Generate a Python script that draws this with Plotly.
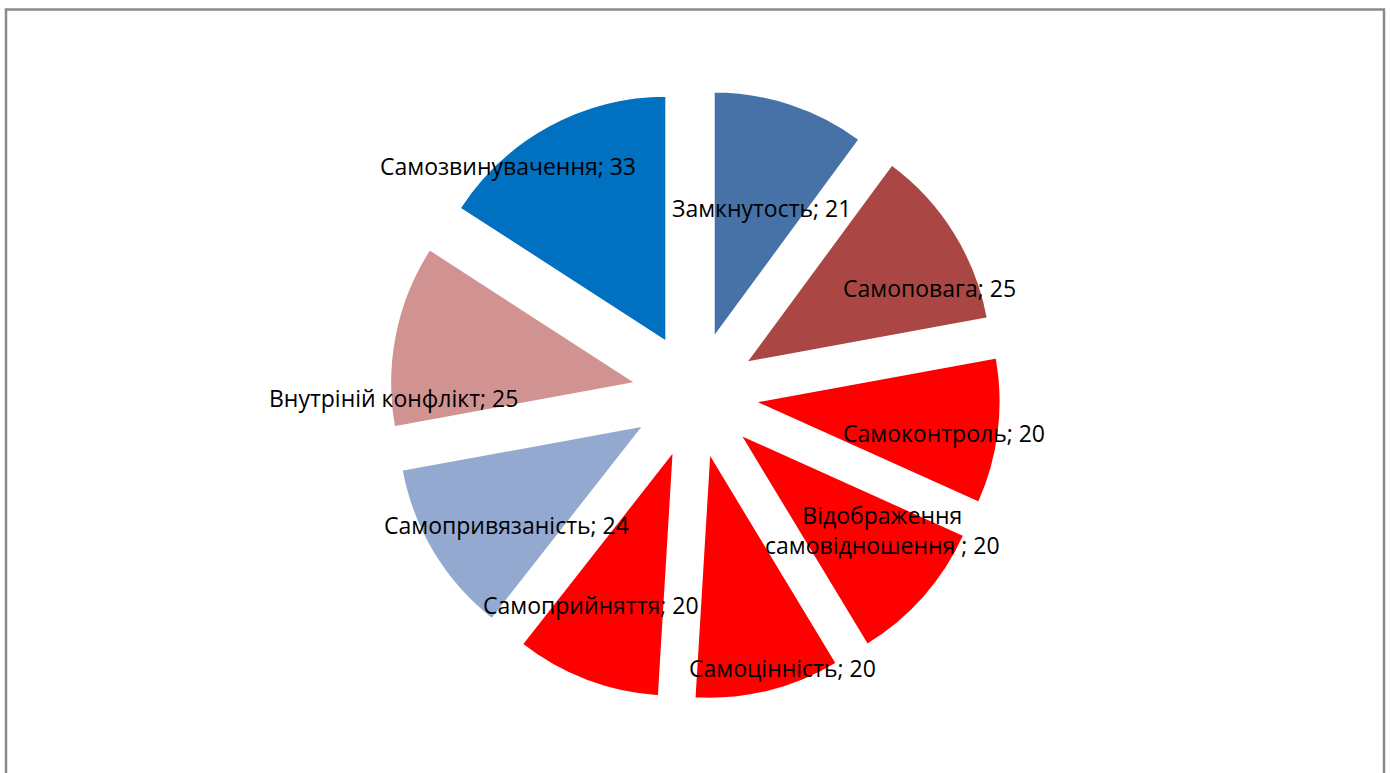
import plotly.graph_objects as go

# Self-attitude components and their scores
categories = [
    "Замкнутость",
    "Самоповага",
    "Самоконтроль",
    "Відображення самовідношення ",
    "Самоцінність",
    "Самоприйняття",
    "Самопривязаність",
    "Внутріній конфлікт",
    "Самозвинувачення",
]
values = [21, 25, 20, 20, 20, 20, 24, 25, 33]

slice_colors = [
    "#4672A8",
    "#AA4744",
    "#FF0000",
    "#FF0000",
    "#FF0000",
    "#FF0000",
    "#94A9D0",
    "#D19392",
    "#0070C0",
]

# Label centres in page pixels (x, y from top)
label_px = [
    (761, 208),
    (930, 288),
    (944, 433),
    (882, 530),
    (782, 668),
    (591, 605),
    (506, 525),
    (393, 398),
    (508, 166),
]

W, H = 1390, 773

fig = go.Figure(
    go.Pie(
        labels=categories,
        values=values,
        sort=False,
        direction="clockwise",
        rotation=0,
        pull=[0.244] * len(values),
        marker=dict(colors=slice_colors, line=dict(color="white", width=2)),
        textinfo="none",
        hoverinfo="label+value",
        showlegend=False,
        domain=dict(x=[389 / W, 1001 / W], y=[1 - 700.5 / H, 1 - 88.5 / H]),
    )
)


def label_text(name, value):
    if len(name) > 20:
        name = name.replace(" ", "<br>", 1)
    return f"{name}; {value}"


for (px, py), name, val in zip(label_px, categories, values):
    fig.add_annotation(
        x=px / W,
        y=1 - py / H,
        xref="paper",
        yref="paper",
        xanchor="center",
        yanchor="middle",
        text=label_text(name, val),
        showarrow=False,
        font=dict(family="Open Sans", size=23, color="black"),
    )

# Chart-area frame
fig.add_shape(
    type="rect",
    xref="paper",
    yref="paper",
    x0=6 / W,
    x1=1384 / W,
    y0=-0.05,
    y1=1 - 9.5 / H,
    line=dict(color="#8a8a8a", width=2.5),
    fillcolor="rgba(0,0,0,0)",
)

fig.update_layout(
    width=W,
    height=H,
    margin=dict(l=0, r=0, t=0, b=0),
    paper_bgcolor="white",
    plot_bgcolor="white",
)

fig.write_html("out.html")
